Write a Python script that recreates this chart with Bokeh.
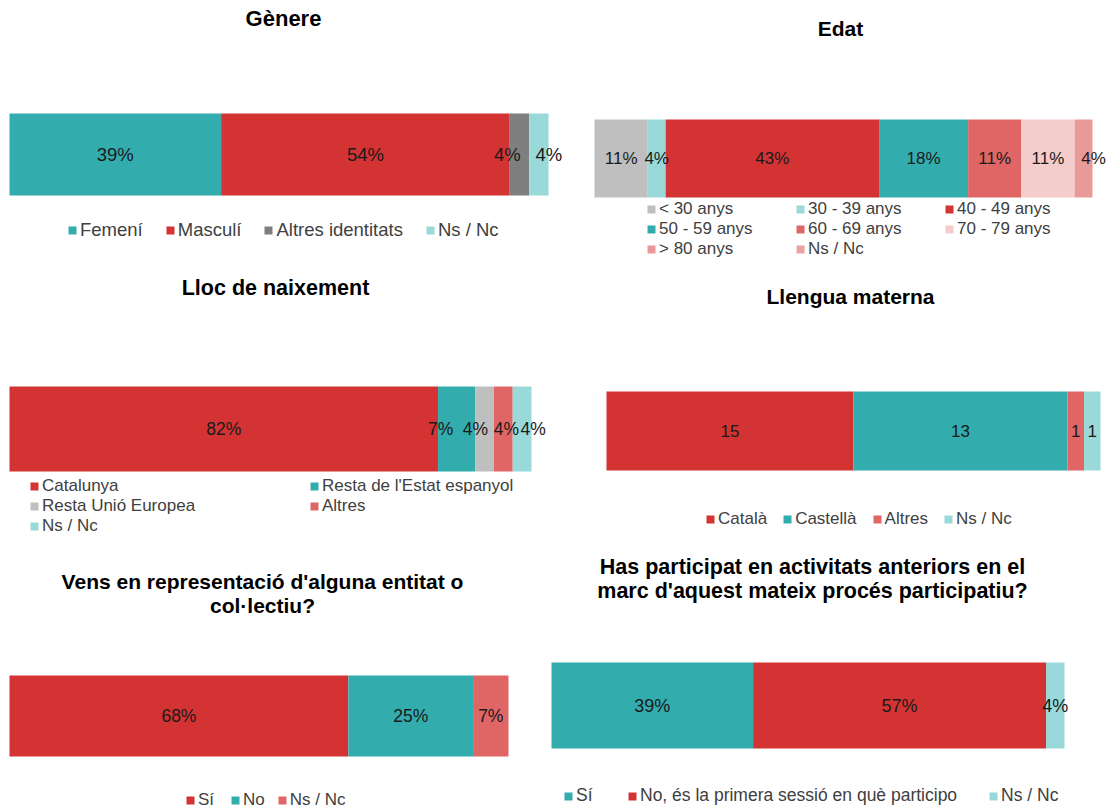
import numpy as np
from bokeh.plotting import figure
from bokeh.models import Range1d, Legend, LegendItem, ColumnDataSource
from bokeh.layouts import column, row
from bokeh.core.properties import value
from bokeh.embed import file_html
from bokeh.resources import INLINE

# ---------------- data ----------------
genere_cats = ["Femení", "Masculí", "Altres identitats", "Ns / Nc"]
genere_vals = [39.3, 53.6, 3.6, 3.6]

edat_cats = ["< 30 anys", "30 - 39 anys", "40 - 49 anys", "50 - 59 anys",
             "60 - 69 anys", "70 - 79 anys", "> 80 anys", "Ns / Nc"]
edat_vals = [10.7, 3.6, 42.9, 17.9, 10.7, 10.7, 3.6, 0.0]

lloc_cats = ["Catalunya", "Resta de l'Estat espanyol", "Resta Unió Europea", "Altres", "Ns / Nc"]
lloc_vals = [82.1, 7.1, 3.6, 3.6, 3.6]

llengua_cats = ["Català", "Castellà", "Altres", "Ns / Nc"]
llengua_vals = [15, 13, 1, 1]

vens_cats = ["Sí", "No", "Ns / Nc"]
vens_vals = [67.9, 25.0, 7.1]

has_cats = ["Sí", "No, és la primera sessió en què participo", "Ns / Nc"]
has_vals = [39.3, 57.1, 3.6]

# ---------------- style ----------------
TEAL = "#33ACAE"
RED = "#D43333"
DGRAY = "#7F7F7F"
LTEAL = "#99D9D9"
LGRAY = "#BFBFBF"
SALMON = "#E06666"
PALE = "#F4CCCC"
PINK = "#EA9999"
PINK2 = "#E8A3A3"
FONT = "Liberation Sans"


def pct(v):
    return f"{round(v)}%"


def panel(w, h, ox, oy, bar, cats, vals, colors, fmt, label_dx, label_size,
          title_lines, title_x, title_ys, title_size, leg):
    l, r, t, b = bar[0] - ox, bar[1] - ox, bar[2] - oy, bar[3] - oy
    vals = np.array(vals, dtype=float)
    total = vals.sum()
    s = total / (r - l)
    u = 1.0 / (b - t)
    p = figure(width=w, height=h, output_backend="svg", toolbar_location=None, tools="",
               x_range=Range1d(-l * s, (w - l) * s),
               y_range=Range1d(0.5 - (h - t) * u, 0.5 + t * u),
               min_border=0, background_fill_color="white", border_fill_color="white")
    p.axis.visible = False
    p.grid.visible = False
    p.outline_line_color = None

    def px2x(xp):
        return (xp - ox - l) * s

    def px2y(yp):
        return 0.5 - (yp - oy - t) * u

    rights = np.cumsum(vals)
    lefts = rights - vals
    rends = []
    for lf, rt, c in zip(lefts, rights, colors):
        rr = p.hbar(y=[0], left=[lf], right=[rt], height=1, fill_color=c, line_color=None)
        rends.append(rr)

    mask = vals > 0
    src = ColumnDataSource(dict(
        x=list(((lefts + rights) / 2)[mask]),
        y=[0] * int(mask.sum()),
        text=[fmt(v) for v in vals[mask]],
        dx=[d for d, m in zip(label_dx, mask) if m],
    ))
    p.text(x="x", y="y", text="text", x_offset="dx", source=src, text_align="center",
           text_baseline="middle", text_font=value(FONT), text_font_size=label_size,
           text_color="#1A1A1A")

    for line, ty in zip(title_lines, title_ys):
        p.text(x=[px2x(title_x)], y=[px2y(ty)], text=[line], text_align="center",
               text_baseline="middle", text_font=value(FONT), text_font_style="bold",
               text_font_size=title_size, text_color="#000000")

    nrows = leg["nrows"]
    row_h = leg["row_h"]
    top_local = leg["y"] - row_h / 2 - oy
    lx = leg["x"] - ox
    ly = h - top_local - nrows * row_h
    items = [LegendItem(label=c, renderers=[rr]) for c, rr in zip(cats, rends)]
    legend = Legend(items=items, location=(lx, ly), orientation="horizontal",
                    label_text_font=FONT, label_text_font_size=leg["size"],
                    label_text_color="#404040", glyph_width=10, glyph_height=10,
                    label_standoff=3, padding=0, margin=0, spacing=leg["spacing"],
                    label_height=row_h, border_line_color=None,
                    background_fill_alpha=0)
    if "ncols" in leg:
        legend.ncols = leg["ncols"]
        legend.label_width = leg["label_width"]
    p.add_layout(legend)
    return p


p1 = panel(575, 276, 0, 0, (9, 548, 113, 195), genere_cats, genere_vals,
           [TEAL, RED, DGRAY, LTEAL], pct, [0, 0, -12, 10], "18.5px",
           ["Gènere"], 283, [18], "22px",
           dict(nrows=1, row_h=21, x=67, y=230, spacing=22, size="18.5px"))

p2 = panel(536, 276, 575, 0, (594, 1092, 119, 197), edat_cats, edat_vals,
           [LGRAY, LTEAL, RED, TEAL, SALMON, PALE, PINK, PINK2], pct,
           [0, 0, 0, 0, 0, 0, 10, 0], "17px",
           ["Edat"], 840, [28], "21px",
           dict(nrows=3, row_h=20, x=646, y=209, spacing=0, ncols=3, label_width=136,
                size="17px"))

p3 = panel(575, 276, 0, 276, (9, 531, 386, 471), lloc_cats, lloc_vals,
           [RED, TEAL, LGRAY, SALMON, LTEAL], pct, [0, -16, -9, 3, 11], "17.5px",
           ["Lloc de naixement"], 275, [287], "21.5px",
           dict(nrows=3, row_h=20, x=29, y=486, spacing=0, ncols=2, label_width=267,
                size="17px"))

p4 = panel(536, 276, 575, 276, (606, 1100, 391, 470), llengua_cats, llengua_vals,
           [RED, TEAL, SALMON, LTEAL], lambda v: f"{int(v)}", [0, 0, 0, 0], "17px",
           ["Llengua materna"], 850, [296], "21px",
           dict(nrows=1, row_h=19, x=705, y=519, spacing=15, size="17px"))

p5 = panel(545, 258, 0, 552, (9, 508, 675, 756), vens_cats, vens_vals,
           [RED, TEAL, SALMON], pct, [0, 0, 0], "17.5px",
           ["Vens en representació d'alguna entitat o", "col·lectiu?"], 262, [581, 605], "21px",
           dict(nrows=1, row_h=19, x=185, y=800, spacing=12, size="17px"))

p6 = panel(566, 258, 545, 552, (551, 1064, 662, 748), has_cats, has_vals,
           [TEAL, RED, LTEAL], pct, [0, 0, 0], "18px",
           ["Has participat en activitats anteriors en el",
            "marc d'aquest mateix procés participatiu?"], 812, [566, 590], "21.5px",
           dict(nrows=1, row_h=20, x=563, y=796, spacing=31, size="17.5px"))

layout = column(row(p1, p2), row(p3, p4), row(p5, p6))
open("out.html", "w").write(file_html(layout, INLINE))
